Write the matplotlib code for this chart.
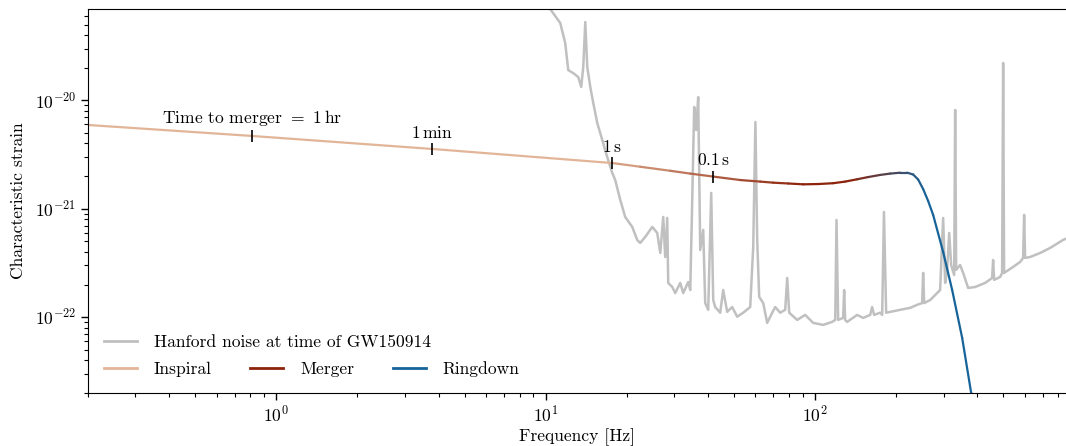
import numpy as np
import matplotlib
matplotlib.use("Agg")
import matplotlib.pyplot as plt
from matplotlib.collections import LineCollection
from matplotlib.lines import Line2D
from matplotlib.ticker import FuncFormatter, LogLocator
import matplotlib.colors as mcolors

plt.rcParams['font.family'] = ['cmr10', 'DejaVu Serif']
plt.rcParams['mathtext.fontset'] = 'cm'
plt.rcParams['axes.unicode_minus'] = False
plt.rcParams['axes.formatter.use_mathtext'] = True

# ---------------- data ----------------
noise_freq = [10.13, 10.39, 11.32, 11.81, 12.12, 12.65, 13.20, 13.54, 13.78, 14.02,
              14.26, 14.63, 15.01, 15.53, 16.21, 16.91, 17.65, 18.11, 18.90, 19.72,
              20.94, 21.85, 22.42, 23.40, 24.85, 25.93, 26.61, 27.29, 27.76, 28.24,
              28.48, 29.48, 30.24, 31.56, 32.38, 33.80, 34.38, 34.97, 35.56, 36.17,
              36.80, 37.44, 38.41, 39.07, 40.09, 41.13, 41.84, 42.56, 44.41, 45.56,
              47.15, 49.20, 51.35, 54.05, 57.39, 58.89, 60.00, 60.93, 61.97, 64.14,
              66.36, 69.26, 71.06, 74.16, 77.40, 78.73, 80.09, 85.76, 91.81, 98.31,
              107.1, 115.6, 118.7, 120.0, 121.7, 127.0, 128.1, 129.2, 131.4, 143.2,
              150.7, 160.0, 162.7, 165.5, 174.2, 177.3, 180.0, 183.4, 206.8, 225.2,
              239.0, 249.5, 251.6, 253.8, 267.2, 283.6, 290.9, 298.5, 303.7, 309.0,
              314.3, 319.7, 328.0, 330.8, 333.6, 345.1, 354.2, 369.6, 392.5, 427.4,
              453.7, 457.6, 461.5, 485.9, 494.2, 498.5, 502.6, 542.8, 576.4, 591.3,
              596.4, 601.5, 627.8, 683.8, 744.7, 832.3, 883.4]
noise_strain = [7.72e-20, 6.94e-20, 5.16e-20, 3.37e-20, 1.90e-20, 1.78e-20, 1.64e-20, 1.33e-20, 2.03e-20, 5.27e-20,
                2.03e-20, 1.33e-20, 9.44e-21, 6.18e-21, 4.31e-21, 3.00e-21, 2.14e-21, 1.84e-21, 1.21e-21, 8.40e-22,
                6.80e-22, 5.16e-22, 4.84e-22, 5.50e-22, 6.80e-22, 5.98e-22, 3.91e-22, 8.40e-22, 3.59e-22, 8.23e-22,
                2.07e-22, 1.90e-22, 1.67e-22, 2.07e-22, 1.67e-22, 2.11e-22, 1.78e-22, 1.21e-21, 8.68e-21, 5.32e-21,
                1.07e-20, 4.17e-22, 6.38e-22, 1.35e-22, 1.17e-22, 1.40e-21, 1.44e-22, 1.24e-22, 1.10e-22, 1.78e-22,
                1.12e-22, 1.24e-22, 1.01e-22, 1.10e-22, 1.24e-22, 4.45e-22, 6.31e-21, 5.16e-22, 1.54e-22, 1.35e-22,
                8.86e-23, 1.10e-22, 1.24e-22, 1.10e-22, 1.17e-22, 2.30e-22, 1.10e-22, 9.44e-23, 1.05e-22, 8.86e-23,
                8.49e-23, 9.05e-23, 9.44e-23, 7.88e-22, 9.44e-23, 9.85e-23, 1.78e-22, 9.44e-23, 9.05e-23, 1.05e-22,
                9.85e-23, 1.05e-22, 1.24e-22, 1.05e-22, 1.10e-22, 1.05e-22, 9.34e-22, 1.10e-22, 1.17e-22, 1.22e-22,
                1.30e-22, 1.35e-22, 2.56e-22, 1.35e-22, 1.44e-22, 1.67e-22, 1.78e-22, 8.23e-22, 2.07e-22, 2.73e-22,
                5.98e-22, 3.03e-22, 2.45e-22, 8.14e-21, 2.73e-22, 3.03e-22, 2.56e-22, 1.86e-22, 1.90e-22, 2.07e-22,
                2.30e-22, 3.37e-22, 2.21e-22, 2.35e-22, 2.56e-22, 2.21e-20, 2.56e-22, 2.91e-22, 3.23e-22, 3.52e-22,
                8.77e-22, 3.52e-22, 3.59e-22, 3.91e-22, 4.35e-22, 5.16e-22, 5.50e-22]

signal_freq = [0.2006, 0.814, 3.79, 17.65, 22.42, 28.97, 34.38, 41.84, 52.70, 62.51,
               69.86, 79.40, 90.27, 102.6, 116.6, 129.2, 143.2, 157.3, 174.2, 189.8,
               206.8, 219.5, 231.0, 241.1, 251.6, 262.6, 274.1, 298.5, 322.3, 351.2,
               379.2, 402.5]
signal_strain = [5.92e-21, 4.69e-21, 3.56e-21, 2.64e-21, 2.44e-21, 2.24e-21, 2.11e-21, 1.98e-21, 1.84e-21, 1.78e-21,
                 1.74e-21, 1.71e-21, 1.68e-21, 1.69e-21, 1.72e-21, 1.78e-21, 1.87e-21, 1.96e-21, 2.05e-21, 2.11e-21,
                 2.15e-21, 2.15e-21, 2.07e-21, 1.86e-21, 1.52e-21, 1.18e-21, 8.77e-22, 4.00e-22, 1.79e-22, 6.45e-23,
                 2.01e-23, 9.15e-24]

marker_labels = [r'Time to merger $=$ $1\,\mathrm{hr}$', r'$1\,\mathrm{min}$',
                 r'$1\,\mathrm{s}$', r'$0.1\,\mathrm{s}$']
marker_freq = [0.814, 3.79, 17.65, 41.84]
marker_strain = [4.69e-21, 3.56e-21, 2.64e-21, 1.98e-21]

x_major = [1, 10, 100]
y_major = [1e-22, 1e-21, 1e-20]

# ---------------- styling ----------------
FS = 12.6
c_noise = '#c0c0c0'
c_insp = '#e3b598'
c_merg = '#8c230a'
c_ring = '#16649a'

fig = plt.figure(figsize=(10.66, 4.46), dpi=100)
ax = fig.add_axes([88 / 1066, 53 / 446, 978 / 1066, 384 / 446])

ax.plot(noise_freq, noise_strain, color=c_noise, lw=1.8, zorder=1)

# gradient coloured signal
lf = np.log10(signal_freq)
pts = np.column_stack([signal_freq, signal_strain])
segs = np.stack([pts[:-1], pts[1:]], axis=1)
mid = 0.5 * (lf[:-1] + lf[1:])
stops = [np.log10(15), np.log10(90), np.log10(135), np.log10(260)]
ci = np.array(mcolors.to_rgb(c_insp))
cm_ = np.array(mcolors.to_rgb(c_merg))
cr = np.array(mcolors.to_rgb(c_ring))
cols = []
for m in mid:
    if m <= stops[0]:
        cols.append(ci)
    elif m <= stops[1]:
        t = (m - stops[0]) / (stops[1] - stops[0])
        cols.append(ci * (1 - t) + cm_ * t)
    elif m <= stops[2]:
        cols.append(cm_)
    elif m <= stops[3]:
        t = (m - stops[2]) / (stops[3] - stops[2])
        cols.append(cm_ * (1 - t) + cr * t)
    else:
        cols.append(cr)
lc = LineCollection(segs, colors=cols, linewidths=1.6, capstyle='round', zorder=2)
ax.add_collection(lc)

ax.plot(marker_freq, marker_strain, ls='none', marker='|', ms=9, mew=1.2, color='k', zorder=3)
for lab, f, h in zip(marker_labels, marker_freq, marker_strain):
    ax.annotate(lab, (f, h), xytext=(0, 6), textcoords='offset points',
                ha='center', va='bottom', fontsize=FS)

ax.set_xscale('log')
ax.set_yscale('log')
ax.set_xlim(0.2, 853)
ax.set_ylim(2e-23, 6.95e-20)
ax.set_xticks(x_major)
ax.set_yticks(y_major)
ax.xaxis.set_minor_locator(LogLocator(base=10, subs=np.arange(2, 10)))
ax.yaxis.set_minor_locator(LogLocator(base=10, subs=np.arange(2, 10)))

fmt = FuncFormatter(lambda v, p: r'$10^{%d}$' % int(round(np.log10(v))))
ax.xaxis.set_major_formatter(fmt)
ax.yaxis.set_major_formatter(fmt)
ax.xaxis.set_minor_formatter(FuncFormatter(lambda v, p: ''))
ax.yaxis.set_minor_formatter(FuncFormatter(lambda v, p: ''))
ax.tick_params(axis='both', which='major', labelsize=FS, length=5, width=1)
ax.tick_params(axis='both', which='minor', length=3, width=0.8)
ax.spines['right'].set_visible(False)

ax.set_xlabel('Frequency [Hz]', fontsize=FS, labelpad=2)
ax.set_ylabel('Characteristic strain', fontsize=FS, labelpad=6)

leg1 = ax.legend([Line2D([], [], color=c_noise, lw=2)], ['Hanford noise at time of GW150914'],
                 loc='lower left', bbox_to_anchor=(0.0, 0.07), frameon=False, fontsize=FS,
                 handlelength=1.9, handletextpad=0.95)
ax.add_artist(leg1)
ax.legend([Line2D([], [], color=c_insp, lw=2), Line2D([], [], color=c_merg, lw=2),
           Line2D([], [], color=c_ring, lw=2)], ['Inspiral', 'Merger', 'Ringdown'],
          ncol=3, loc='lower left', bbox_to_anchor=(0.0, 0.0), frameon=False, fontsize=FS,
          handlelength=1.9, handletextpad=0.95, columnspacing=2.2)

fig.savefig('out.png', dpi=100)
